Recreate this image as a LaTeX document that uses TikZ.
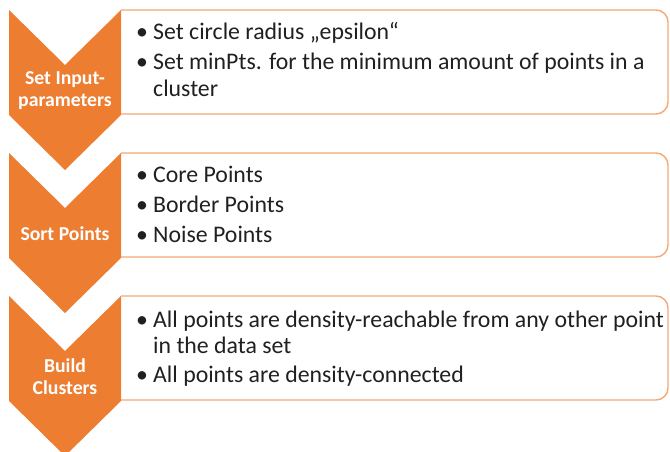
\documentclass[tikz,border=0pt]{standalone}
\usepackage{fontspec}
\setmainfont{Carlito}
\definecolor{orng}{HTML}{ED7D31}
\definecolor{boxedge}{HTML}{F4A874}
\definecolor{txt}{HTML}{202020}
\begin{document}
\begin{tikzpicture}[x=1pt,y=-1pt,
  chev/.style={fill=orng,draw=none},
  panel/.style={draw=boxedge,line width=1.4pt,rounded corners=12pt},
  lab/.style={text=white,font=\fontsize{19.7}{22}\selectfont\bfseries,align=center,inner sep=0pt},
  bul/.style={anchor=base,text=txt,font=\fontsize{23.8}{27}\selectfont,inner sep=0pt},
  item/.style={anchor=base west,text=txt,font=\fontsize{23.8}{27}\selectfont,inner sep=0pt}]
\useasboundingbox (0,0) rectangle (670,452);
\clip (0,0) rectangle (670,452);
% panels
\foreach \dy in {0,143,286}{
  \draw[panel] (121,10+\dy) -- (668,10+\dy) -- (668,114+\dy) -- (121,114+\dy);
}
% chevrons
\foreach \dy in {0,143,286}{
  \fill[chev] (9,10+\dy) -- (65,65+\dy) -- (121,10+\dy) -- (121,115+\dy) -- (65,170+\dy) -- (9,115+\dy) -- cycle;
}
% labels
\node[lab] (l1) at (65,91) {Set Input-\\parameters};
\node[lab] (l2) at (65,234) {Sort Points};
\node[lab] (l3) at (65,377) {Build\\Clusters};
% box 1
\node[bul] (b11) at (142,40) {•};
\node[item] (t11) at (153,40) {Set circle radius „epsilon“};
\node[bul] (b12) at (142,70) {•};
\node[item] (t12) at (153,70) {Set minPts. for the minimum amount of points in a};
\node[item] (t12b) at (153,97) {cluster};
% box 2
\node[bul] (b21) at (142,182) {•};
\node[item] (t21) at (153,182) {Core Points};
\node[bul] (b22) at (142,212) {•};
\node[item] (t22) at (153,212) {Border Points};
\node[bul] (b23) at (142,242) {•};
\node[item] (t23) at (153,242) {Noise Points};
% box 3
\node[bul] (b31) at (142,327) {•};
\node[item] (t31) at (153,327) {All points are density-reachable from any other point};
\node[item] (t31b) at (153,353) {in the data set};
\node[bul] (b32) at (142,382) {•};
\node[item] (t32) at (153,382) {All points are density-connected};
\end{tikzpicture}
\end{document}
